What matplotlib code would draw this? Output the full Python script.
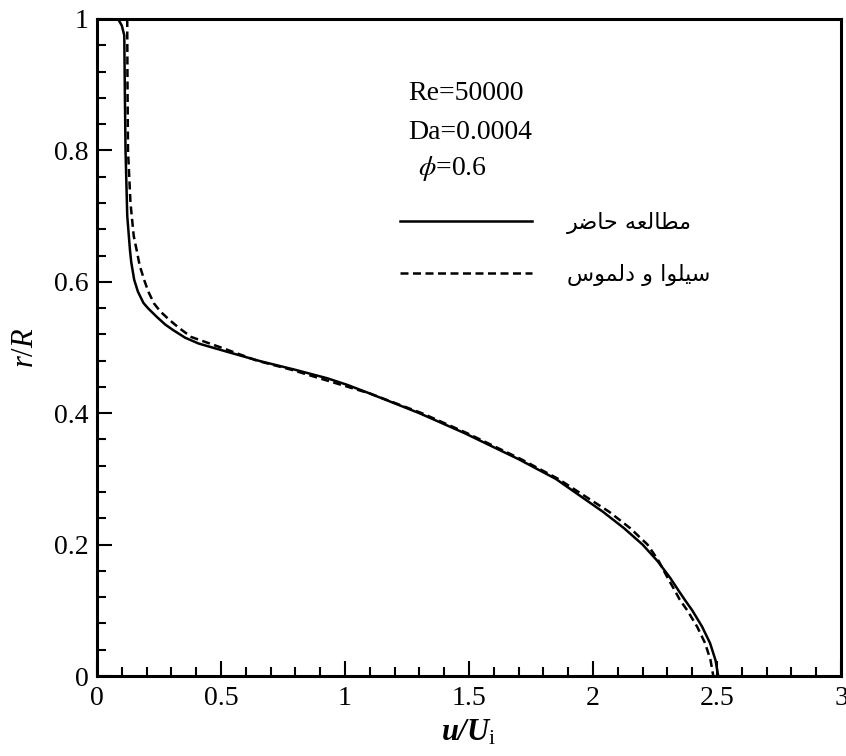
import matplotlib
matplotlib.use("Agg")
import matplotlib.pyplot as plt
from matplotlib.ticker import MultipleLocator
from matplotlib.lines import Line2D

# ---------------- data ----------------
r_present = [1.0, 0.99, 0.975, 0.9, 0.8, 0.7, 0.648, 0.63, 0.603, 0.585, 0.568, 0.56,
             0.547, 0.535, 0.527, 0.515, 0.506, 0.494, 0.479, 0.466, 0.453, 0.443,
             0.43, 0.4, 0.37, 0.33, 0.3, 0.25, 0.225, 0.2, 0.175, 0.15, 0.13, 0.116,
             0.1, 0.075, 0.05, 0.024, 0.0]
u_present = [0.085, 0.10, 0.11, 0.112, 0.115, 0.122, 0.133, 0.138, 0.150, 0.165, 0.187, 0.205,
             0.24, 0.275, 0.305, 0.355, 0.41, 0.52, 0.66, 0.80, 0.93, 1.01,
             1.10, 1.3, 1.48, 1.70, 1.85, 2.04, 2.125, 2.2, 2.26, 2.31, 2.345, 2.37,
             2.40, 2.44, 2.472, 2.494, 2.505]

r_silva = [1.0, 0.98, 0.9, 0.8, 0.72, 0.67, 0.648, 0.625, 0.603, 0.585, 0.567, 0.555,
           0.542, 0.53, 0.516, 0.5, 0.48, 0.466, 0.45, 0.43, 0.4, 0.37, 0.33, 0.3,
           0.25, 0.225, 0.2, 0.175, 0.15, 0.13, 0.116, 0.1, 0.075, 0.05, 0.024, 0.0]
u_silva = [0.122, 0.122, 0.123, 0.125, 0.135, 0.148, 0.16, 0.172, 0.19, 0.207, 0.23, 0.255,
           0.292, 0.33, 0.38, 0.5, 0.645, 0.785, 0.925, 1.1, 1.31, 1.49, 1.71, 1.86,
           2.065, 2.15, 2.22, 2.265, 2.30, 2.33, 2.35, 2.38, 2.42, 2.452, 2.474, 2.485]

label_present = "مطالعه حاضر"
label_silva = "سیلوا و دلموس"
params_text = ["Re=50000", "Da=0.0004", r"$\phi$=0.6"]

x_ticks = [0, 0.5, 1, 1.5, 2, 2.5, 3]
x_ticklabels = ["0", "0.5", "1", "1.5", "2", "2.5", "3"]
y_ticks = [0, 0.2, 0.4, 0.6, 0.8, 1]
y_ticklabels = ["0", "0.2", "0.4", "0.6", "0.8", "1"]


# ------------- simple Arabic/Persian shaping (matplotlib has no CTL) -------------
FORMS = {  # iso, fin, ini, med
    'م': ('\uFEE1', '\uFEE2', '\uFEE3', '\uFEE4'),
    'ط': ('\uFEC1', '\uFEC2', '\uFEC3', '\uFEC4'),
    'ا': ('\uFE8D', '\uFE8E', None, None),
    'ل': ('\uFEDD', '\uFEDE', '\uFEDF', '\uFEE0'),
    'ع': ('\uFEC9', '\uFECA', '\uFECB', '\uFECC'),
    'ه': ('\uFEE9', '\uFEEA', '\uFEEB', '\uFEEC'),
    'ح': ('\uFEA1', '\uFEA2', '\uFEA3', '\uFEA4'),
    'ض': ('\uFEBD', '\uFEBE', '\uFEBF', '\uFEC0'),
    'ر': ('\uFEAD', '\uFEAE', None, None),
    'س': ('\uFEB1', '\uFEB2', '\uFEB3', '\uFEB4'),
    'ی': ('\uFEF1', '\uFEF2', '\uFEF3', '\uFEF4'),
    'و': ('\uFEED', '\uFEEE', None, None),
    'د': ('\uFEA9', '\uFEAA', None, None),
}


def shape(text):
    chars = list(text)
    out = []
    for i, c in enumerate(chars):
        if c not in FORMS:
            out.append(c)
            continue
        prev = chars[i - 1] if i > 0 else None
        nxt = chars[i + 1] if i + 1 < len(chars) else None
        joins_prev = prev in FORMS and FORMS[prev][2] is not None
        joins_next = nxt in FORMS and FORMS[c][2] is not None
        iso, fin, ini, med = FORMS[c]
        if joins_prev and joins_next:
            g = med
        elif joins_prev:
            g = fin
        elif joins_next:
            g = ini
        else:
            g = iso
        out.append(g)
    return "".join(reversed(out))


# ---------------- style ----------------
plt.rcParams['font.family'] = ['Liberation Serif', 'DejaVu Sans']
plt.rcParams['mathtext.fontset'] = 'custom'
plt.rcParams['mathtext.rm'] = 'Liberation Serif'
plt.rcParams['mathtext.it'] = 'Liberation Serif:italic'
plt.rcParams['mathtext.bf'] = 'Liberation Serif:bold'
plt.rcParams['mathtext.bfit'] = 'Liberation Serif:italic:bold'

fig = plt.figure(figsize=(8.46, 7.56), dpi=100)
ax = fig.add_axes([97 / 846, 1 - 676 / 756, 744 / 846, 657 / 756])

lw = 1.8
dash = (0, (3.2, 1.8))
ax.plot(u_present, r_present, color='black', lw=lw, solid_joinstyle='round')
ax.plot(u_silva, r_silva, color='black', lw=lw, linestyle=dash)

ax.set_xlim(0, 3)
ax.set_ylim(0, 1)
ax.set_xticks(x_ticks)
ax.set_xticklabels(x_ticklabels)
ax.set_yticks(y_ticks)
ax.set_yticklabels(y_ticklabels)
ax.xaxis.set_minor_locator(MultipleLocator(0.1))
ax.yaxis.set_minor_locator(MultipleLocator(0.04))
ax.tick_params(which='both', direction='in', top=False, right=False,
               labelsize=20, width=1.5)
ax.tick_params(which='major', length=11)
ax.tick_params(which='minor', length=6.5)
ax.tick_params(axis='x', pad=7)
ax.tick_params(axis='y', pad=6)
for s in ax.spines.values():
    s.set_linewidth(2.2)

ax.set_xlabel(r'$\mathbfit{u/U}_{\mathrm{i}}$', fontsize=22, labelpad=5)
ax.set_ylabel(r'$r/R$', fontsize=22, labelpad=10)

# parameter annotations
ax.text(0.418, 0.887, params_text[0], transform=ax.transAxes, fontsize=20,
        va='center', ha='left')
ax.text(0.418, 0.828, params_text[1], transform=ax.transAxes, fontsize=20,
        va='center', ha='left')
ax.text(0.431, 0.773, params_text[2], transform=ax.transAxes, fontsize=20,
        va='center', ha='left', math_fontfamily='stix')

handles = [Line2D([], [], color='black', lw=lw),
           Line2D([], [], color='black', lw=lw, linestyle=dash)]
leg = ax.legend(handles, [shape(label_present), shape(label_silva)],
                loc='upper left', bbox_to_anchor=(0.407, 0.707),
                frameon=False, borderpad=0, borderaxespad=0,
                handlelength=5.95, handletextpad=1.58, labelspacing=1.37,
                prop={'family': ['DejaVu Sans'], 'size': 16})

fig.savefig('out.png', dpi=100)
